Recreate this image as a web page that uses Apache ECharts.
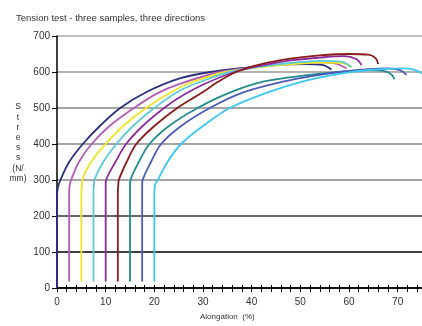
<!DOCTYPE html>
<html>
<head>
<meta charset="utf-8">
<script src="https://cdn.jsdelivr.net/npm/echarts@6/dist/echarts.min.js"></script>
<style>
html,body{margin:0;padding:0;background:#fff;}
#chart{width:422px;height:326px;}
</style>
</head>
<body>
<div id="chart"></div>
<script>
var titleText = 'Tension test - three samples, three directions';
var xAxisName = 'Alongation  (%)';
var yAxisName = 'S\nt\nr\ne\ns\ns\n(N/\nmm)';
var xTickLabels = [0, 10, 20, 30, 40, 50, 60, 70];
var yTickLabels = [0, 100, 200, 300, 400, 500, 600, 700];

var curveNames = ['A1', 'A2', 'A3', 'B1', 'B2', 'B3', 'C1', 'C2', 'C3'];
var curveColors = ['#2b2f7f', '#b45bb4', '#ece62a', '#5ccbd6', '#8c2c9c', '#8c1c1c', '#228b8b', '#4a5cb8', '#3cc8f0'];

var curve1 = [[0,0],[0,255],[0.2,280],[0.7,300],[2.5,350],[5.3,400],[8.8,450],[13,500],[18.5,545],[25.2,582],[31.5,600],[38,611],[45,619],[51,622],[54.5,620],[56.4,607]];
var curve2 = [[2.5,18],[2.5,260],[2.6,285],[2.9,300],[4.5,350],[7.1,400],[10.8,450],[15.8,500],[20.5,540],[25.2,567],[33.5,600],[40,612],[47,622],[53,627],[57,624],[59.5,610]];
var curve3 = [[5,18],[5,262],[5.1,285],[5.2,300],[7,350],[10,400],[13.6,450],[18.3,500],[25.2,557],[30,582],[34.5,600],[41,612],[48,621],[54,626],[58.5,625],[60.5,613]];
var curve4 = [[7.5,18],[7.5,265],[7.6,287],[7.7,300],[9.5,350],[12.2,400],[15.6,450],[20,500],[25.2,548],[30.5,578],[35.5,600],[42,615],[48,625],[54,631],[58.5,628],[60.5,614]];
var curve5 = [[10,18],[10,262],[10,287],[10.1,300],[12,350],[14.2,400],[17.6,450],[22,500],[25.2,530],[30.5,568],[36.5,600],[42,618],[48,632],[54,640],[59,644],[61.5,636],[62.6,619]];
var curve6 = [[12.5,18],[12.5,265],[12.6,288],[12.7,300],[14.3,350],[16.3,400],[20,450],[24.7,500],[29.5,540],[33,572],[36.8,600],[42,622],[48,637],[54,646],[60,650],[64,648],[65.5,638],[66,622]];
var curve7 = [[15,18],[15,262],[15,287],[15.1,300],[16.8,350],[19,400],[23,450],[28.9,500],[35,540],[42.3,573],[52,592],[58,600],[64,605],[67.5,602],[68.8,592],[69.3,580]];
var curve8 = [[17.5,18],[17.5,262],[17.5,287],[17.6,300],[19.3,350],[21.4,400],[25.5,450],[31.4,500],[38,542],[46.4,573],[52,588],[58,600],[64,608],[68,610],[70.5,605],[71.8,592]];
var curve9 = [[20,18],[20,262],[20.2,288],[20.7,300],[22.7,350],[25.5,400],[30,450],[35.5,500],[43,542],[50,572],[56,590],[61,601],[66,607],[71,610],[73.5,606],[75,596]];

var curves = [curve1, curve2, curve3, curve4, curve5, curve6, curve7, curve8, curve9];

var chart = echarts.init(document.getElementById('chart'), null, {renderer: 'canvas'});
var font = 'Liberation Sans, Arial, sans-serif';

var series = curves.map(function (c, i) {
  return {
    name: curveNames[i],
    type: 'line',
    data: c,
    showSymbol: false,
    smooth: 0.35,
    clip: true,
    lineStyle: {color: curveColors[i], width: 1.8},
    itemStyle: {color: curveColors[i]},
    animation: false,
    z: 3
  };
});

chart.setOption({
  animation: false,
  backgroundColor: '#fff',
  title: {
    text: titleText,
    left: 11, top: 8,
    textStyle: {fontFamily: font, fontSize: 9.5, fontWeight: 'normal', color: '#333'}
  },
  grid: {left: 57, right: 0, top: 36, bottom: 38, containLabel: false},
  xAxis: [{
    type: 'value', min: 0, max: 75, interval: 2,
    axisLine: {show: true, onZero: false, lineStyle: {color: '#000', width: 1.5}},
    axisTick: {show: true, inside: false, length: 4, lineStyle: {color: '#000', width: 1}},
    splitLine: {show: false},
    axisLabel: {
      show: true, margin: 9, showMaxLabel: false,
      fontFamily: font, fontSize: 10, color: '#333',
      formatter: function (v) { return xTickLabels.indexOf(v) >= 0 ? String(v) : ''; }
    }
  }, {
    type: 'value', min: 0, max: 75, interval: 2, position: 'bottom',
    axisLine: {show: false},
    axisTick: {show: true, inside: true, length: 3, lineStyle: {color: '#000', width: 1}},
    splitLine: {show: false},
    axisLabel: {show: false}
  }],
  yAxis: {
    type: 'value', min: 0, max: 700, interval: 100,
    axisLine: {show: true, lineStyle: {color: '#000', width: 1.5}},
    axisTick: {show: true, inside: false, length: 5, lineStyle: {color: '#000', width: 1}},
    splitLine: {show: true, lineStyle: {color: ['#000', '#000', '#333', '#888', '#888', '#888', '#999', '#aaa'], width: 1.5}},
    axisLabel: {
      margin: 7, fontFamily: font, fontSize: 10, color: '#333',
      formatter: function (v) { return yTickLabels.indexOf(v) >= 0 ? String(v) : ''; }
    }
  },
  graphic: [{
    type: 'text', left: 200, top: 313,
    style: {text: xAxisName, fontFamily: font, fontSize: 8, fill: '#333'}
  }, {
    type: 'text', x: 18, y: 102,
    style: {text: yAxisName, fontFamily: font, fontSize: 8.5, lineHeight: 10.2, fill: '#333', align: 'center', verticalAlign: 'top'}
  }],
  series: series
});
</script>
</body>
</html>
